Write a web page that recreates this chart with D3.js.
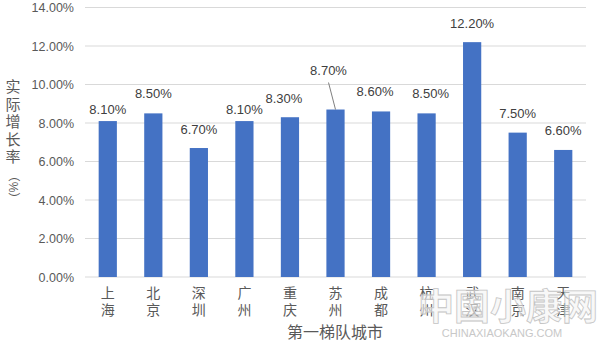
<!DOCTYPE html>
<html>
<head>
<meta charset="utf-8">
<script src="https://cdn.jsdelivr.net/npm/d3@7"></script>
<style>
  body { margin: 0; background: #fff; }
  text { font-family: "Liberation Sans", "Noto Sans CJK SC", sans-serif; }
</style>
</head>
<body>
<svg id="chart" width="600" height="352"></svg>
<script>
// data
const cities = ['上海', '北京', '深圳', '广州', '重庆', '苏州', '成都', '杭州', '武汉', '南京', '天津'];
const growth = [8.1, 8.5, 6.7, 8.1, 8.3, 8.7, 8.6, 8.5, 12.2, 7.5, 6.6];
const yTicks = [0, 2, 4, 6, 8, 10, 12, 14];

const svg = d3.select('#chart');
const plotLeft = 85, plotRight = 586, plotTop = 7.5, plotBottom = 277;

const x = d3.scaleBand()
  .domain(cities)
  .range([plotLeft, plotRight])
  .paddingInner(0.6)
  .paddingOuter(0.3);

const y = d3.scaleLinear()
  .domain([0, 14])
  .range([plotBottom, plotTop]);

// grid
svg.append('g')
  .selectAll('line')
  .data(yTicks)
  .enter()
  .append('line')
  .attr('x1', plotLeft)
  .attr('x2', plotRight)
  .attr('y1', d => y(d))
  .attr('y2', d => y(d))
  .attr('stroke', '#d9d9d9')
  .attr('stroke-width', 1);

// y axis labels
const yAxis = svg.append('g')
  .attr('transform', `translate(${plotLeft - 8},0)`)
  .call(d3.axisLeft(y).tickValues(yTicks).tickSize(0).tickFormat(d => d.toFixed(2) + '%'));
yAxis.select('.domain').remove();
yAxis.selectAll('text')
  .attr('fill', '#595959')
  .style('font-size', '12.5px');

// bars
svg.append('g')
  .selectAll('rect')
  .data(growth)
  .enter()
  .append('rect')
  .attr('x', (d, i) => x(cities[i]))
  .attr('y', d => y(d))
  .attr('width', x.bandwidth())
  .attr('height', d => plotBottom - y(d))
  .attr('fill', '#4472c4');

// labels, lifted like the manually placed excel labels
const lift = [12, 20, 19, 12, 19, 40, 20, 20, 19, 20, 20];
const shift = [0, 0, 0, 0, -6, -7, -6, 4, 0, 0, 0];

svg.append('g')
  .selectAll('text')
  .data(growth)
  .enter()
  .append('text')
  .attr('x', (d, i) => x(cities[i]) + x.bandwidth() / 2 + shift[i])
  .attr('y', (d, i) => y(d) - lift[i] + 5)
  .attr('text-anchor', 'middle')
  .attr('fill', '#404040')
  .style('font-size', '13px')
  .text(d => d.toFixed(2) + '%');

// leader line for 苏州
const sz = cities.indexOf('苏州');
svg.append('line')
  .attr('x1', x(cities[sz]) + x.bandwidth() / 2 - 7)
  .attr('y1', y(growth[sz]) - 27)
  .attr('x2', x(cities[sz]) + x.bandwidth() / 2)
  .attr('y2', y(growth[sz]))
  .attr('stroke', '#7f7f7f')
  .attr('stroke-width', 1);

// city labels, stacked vertically
const xl = svg.append('g');
cities.forEach(c => {
  const t = xl.append('text')
    .attr('text-anchor', 'middle')
    .attr('fill', '#595959')
    .style('font-size', '14px');
  c.split('').forEach((ch, j) => {
    t.append('tspan')
      .attr('x', x(c) + x.bandwidth() / 2)
      .attr('y', 298 + j * 17)
      .text(ch);
  });
});

// axis titles
svg.append('text')
  .attr('x', 335)
  .attr('y', 338)
  .attr('text-anchor', 'middle')
  .attr('fill', '#595959')
  .style('font-size', '16px')
  .text('第一梯队城市');

const yTitle = svg.append('text')
  .attr('fill', '#595959')
  .attr('text-anchor', 'middle')
  .style('font-size', '15px');
'实际增长率'.split('').forEach((ch, j) => {
  yTitle.append('tspan')
    .attr('x', 13)
    .attr('y', 92 + j * 17.5)
    .text(ch);
});
// the (%) part lies on its side
svg.append('text')
  .attr('transform', 'translate(13,187) rotate(90)')
  .attr('text-anchor', 'middle')
  .attr('dy', '0.35em')
  .attr('fill', '#595959')
  .style('font-size', '12px')
  .text('（%）');

// watermark
svg.append('text')
  .attr('x', 508)
  .attr('y', 320)
  .attr('text-anchor', 'middle')
  .attr('fill', '#f4f4f4')
  .attr('fill-opacity', 0.6)
  .attr('stroke', '#c4c4c4')
  .attr('stroke-width', 0.8)
  .style('font-size', '36px')
  .style('font-weight', 'bold')
  .text('中国小康网');
svg.append('text')
  .attr('x', 502)
  .attr('y', 337)
  .attr('text-anchor', 'middle')
  .attr('fill', '#c8c8c8')
  .style('font-size', '11px')
  .text('CHINAXIAOKANG.COM');
</script>
</body>
</html>
